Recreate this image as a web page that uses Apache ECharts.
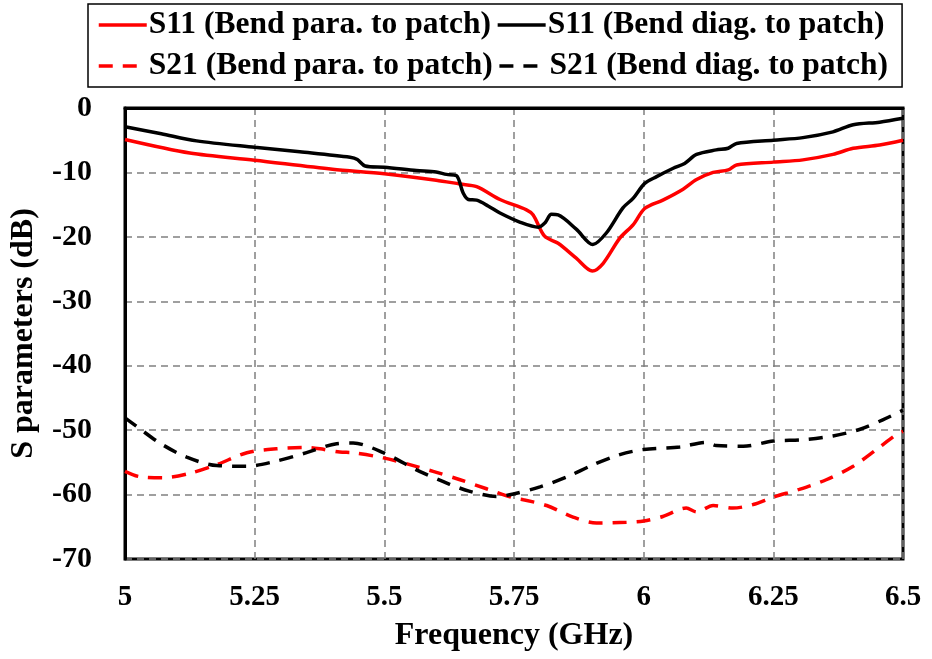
<!DOCTYPE html>
<html>
<head>
<meta charset="utf-8">
<script src="https://cdn.jsdelivr.net/npm/echarts@6/dist/echarts.min.js"></script>
<style>html,body{margin:0;padding:0;background:#fff;}#c{width:932px;height:659px;}</style>
</head>
<body>
<div id="c"></div>
<script>
var seriesNames = ['S11 (Bend para. to patch)', 'S11 (Bend diag. to patch)', 'S21 (Bend para. to patch)', 'S21 (Bend diag. to patch)'];
var xTicks = [5, 5.25, 5.5, 5.75, 6, 6.25, 6.5];

var s11ParaF = [5.0, 5.125, 5.25, 5.40, 5.5, 5.6, 5.646, 5.678, 5.723, 5.774, 5.787, 5.809, 5.835, 5.87, 5.901, 5.922, 5.954, 5.98, 6.002, 6.037, 6.076, 6.102, 6.134, 6.163, 6.179, 6.25, 6.307, 6.365, 6.404, 6.455, 6.5];
var s11ParaV = [-4.9, -7.0, -8.1, -9.5, -10.2, -11.2, -11.8, -12.2, -14.2, -15.8, -16.6, -19.9, -21.0, -23.3, -25.3, -24.1, -20.2, -18.1, -15.6, -14.3, -12.6, -11.1, -10.0, -9.6, -8.85, -8.4, -8.05, -7.2, -6.25, -5.75, -5.0];

var s11DiagF = [5.0, 5.07, 5.138, 5.25, 5.337, 5.434, 5.448, 5.463, 5.5, 5.562, 5.6, 5.62, 5.639, 5.652, 5.662, 5.678, 5.70, 5.723, 5.761, 5.797, 5.81, 5.822, 5.835, 5.87, 5.902, 5.928, 5.96, 5.98, 6.002, 6.025, 6.057, 6.079, 6.102, 6.14, 6.163, 6.179, 6.25, 6.307, 6.365, 6.404, 6.455, 6.5];
var s11DiagV = [-2.9, -4.0, -5.1, -6.1, -6.8, -7.65, -8.0, -9.0, -9.2, -9.7, -9.95, -10.3, -10.5, -13.2, -14.2, -14.3, -15.2, -16.3, -17.7, -18.5, -17.8, -16.5, -16.6, -18.8, -21.2, -19.4, -15.5, -14.0, -11.7, -10.65, -9.35, -8.6, -7.2, -6.5, -6.25, -5.5, -5.0, -4.6, -3.7, -2.6, -2.2, -1.6];

var s21ParaF = [5.0, 5.027, 5.074, 5.125, 5.177, 5.235, 5.292, 5.35, 5.376, 5.414, 5.44, 5.498, 5.549, 5.594, 5.646, 5.697, 5.748, 5.768, 5.813, 5.864, 5.909, 5.967, 6.0, 6.037, 6.082, 6.102, 6.134, 6.172, 6.211, 6.25, 6.30, 6.352, 6.404, 6.449, 6.487, 6.5];
var s21ParaV = [-56.4, -57.2, -57.4, -56.7, -55.35, -53.5, -52.9, -52.7, -52.9, -53.4, -53.5, -54.3, -55.35, -56.4, -57.7, -59.1, -60.5, -60.8, -61.7, -63.5, -64.4, -64.3, -64.1, -63.4, -62.1, -62.7, -61.7, -62.1, -61.55, -60.4, -59.2, -57.7, -55.6, -53.0, -50.7, -50.2];

var s21DiagF = [5.0, 5.022, 5.067, 5.119, 5.177, 5.235, 5.292, 5.35, 5.408, 5.44, 5.498, 5.568, 5.626, 5.665, 5.716, 5.749, 5.80, 5.851, 5.902, 5.954, 6.0, 6.07, 6.121, 6.14, 6.192, 6.25, 6.307, 6.365, 6.416, 6.461, 6.5];
var s21DiagV = [-48.1, -49.4, -52.0, -54.2, -55.5, -55.6, -54.8, -53.5, -52.1, -52.0, -53.5, -56.4, -58.4, -59.5, -60.3, -59.9, -58.8, -57.3, -55.4, -53.8, -53.0, -52.6, -51.9, -52.4, -52.5, -51.7, -51.5, -50.9, -49.9, -48.4, -46.9];

function pairs(f, v) { return f.map(function (x, i) { return [x, v[i]]; }); }

var FONT = '"Liberation Serif", "Times New Roman", serif';
var chart = echarts.init(document.getElementById('c'), null, { renderer: 'canvas' });
var dash = [14, 10];
chart.setOption({
  animation: false,
  backgroundColor: '#fff',
  textStyle: { fontFamily: FONT },
  legend: {
    data: seriesNames,
    left: 88, top: 4, width: 810,
    padding: [3, 14, 3, 9],
    borderColor: '#000', borderWidth: 1.5,
    itemWidth: 48, itemHeight: 14, itemGap: 5,
    itemStyle: { opacity: 0 },
    lineStyle: { width: 3.5 },
    textStyle: { fontFamily: FONT, fontWeight: 'bold', fontSize: 31.5, lineHeight: 36, color: '#000', padding: [0, 0, 0, -3] }
  },
  grid: { left: 125, right: 29, top: 108, bottom: 100, show: true, borderColor: '#000', borderWidth: 3 },
  xAxis: {
    type: 'value', min: 5, max: 6.5, interval: 0.25,
    name: 'Frequency (GHz)', nameLocation: 'middle', nameGap: 61,
    nameTextStyle: { fontFamily: FONT, fontWeight: 'bold', fontSize: 32, color: '#000' },
    axisLine: { lineStyle: { color: '#000', width: 3 } },
    axisTick: { show: false },
    axisLabel: { margin: 24, fontFamily: FONT, fontWeight: 'bold', fontSize: 29, color: '#000',
      formatter: function (v) { return xTicks.indexOf(+v.toFixed(2)) >= 0 ? String(+v.toFixed(2)) : ''; } },
    splitLine: { show: true, lineStyle: { color: '#808080', type: [7, 5], width: 1.5 } }
  },
  yAxis: {
    type: 'value', min: -70, max: 0, interval: 10,
    name: 'S parameters (dB)', nameLocation: 'middle', nameGap: 85,
    nameTextStyle: { fontFamily: FONT, fontWeight: 'bold', fontSize: 32, color: '#000' },
    axisLine: { lineStyle: { color: '#000', width: 3 } },
    axisTick: { show: false },
    axisLabel: { margin: 33, fontFamily: FONT, fontWeight: 'bold', fontSize: 30, color: '#000' },
    splitLine: { show: true, lineStyle: { color: '#808080', type: [7, 5], width: 1.5 } }
  },
  series: [
    { name: seriesNames[0], type: 'line', data: pairs(s11ParaF, s11ParaV), symbol: 'none', smooth: 0.3, lineStyle: { color: '#ff0000', width: 3.5 }, itemStyle: { color: '#ff0000' } },
    { name: seriesNames[1], type: 'line', data: pairs(s11DiagF, s11DiagV), symbol: 'none', smooth: 0.3, lineStyle: { color: '#000', width: 3.5 }, itemStyle: { color: '#000' } },
    { name: seriesNames[2], type: 'line', data: pairs(s21ParaF, s21ParaV), symbol: 'none', smooth: 0.3, lineStyle: { color: '#ff0000', width: 3.5, type: dash }, itemStyle: { color: '#ff0000' } },
    { name: seriesNames[3], type: 'line', data: pairs(s21DiagF, s21DiagV), symbol: 'none', smooth: 0.3, lineStyle: { color: '#000', width: 3.5, type: dash }, itemStyle: { color: '#000' } }
  ]
});
</script>
</body>
</html>
